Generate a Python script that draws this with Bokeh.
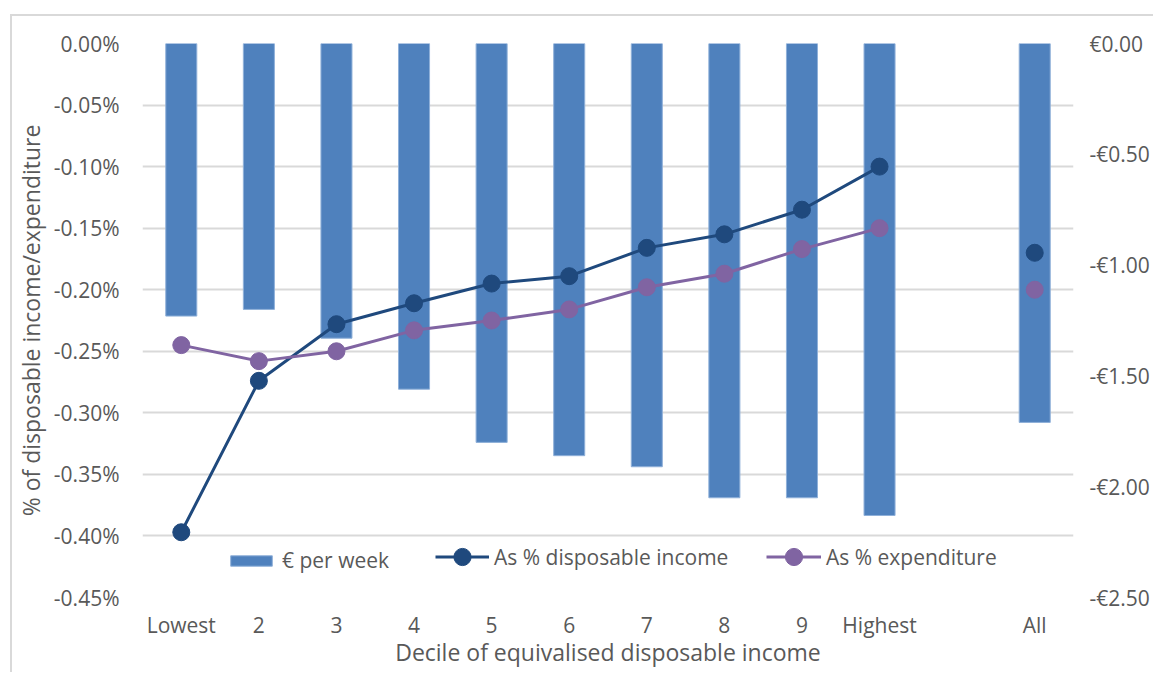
from bokeh.plotting import figure
from bokeh.models import (FactorRange, Range1d, LinearAxis, FixedTicker, PrintfTickFormatter,
                          CustomJSTickFormatter, Legend, LegendItem)
from bokeh.embed import file_html
from bokeh.resources import INLINE

# ---- data ----
categories = ["Lowest", "2", "3", "4", "5", "6", "7", "8", "9", "Highest", " ", "All"]
point_cats = ["Lowest", "2", "3", "4", "5", "6", "7", "8", "9", "Highest", "All"]
eur_per_week = [-1.23, -1.20, -1.33, -1.56, -1.80, -1.86, -1.91, -2.05, -2.05, -2.13, -1.71]
pct_disp_income = [-0.397, -0.274, -0.228, -0.211, -0.195, -0.189, -0.166, -0.155, -0.135, -0.100, -0.170]
pct_expenditure = [-0.245, -0.258, -0.250, -0.233, -0.225, -0.216, -0.198, -0.187, -0.167, -0.150, -0.200]
left_ticks = [0.0, -0.05, -0.10, -0.15, -0.20, -0.25, -0.30, -0.35, -0.40, -0.45]
right_ticks = [0.0, -0.5, -1.0, -1.5, -2.0, -2.5]
series_names = ["€ per week", "As % disposable income", "As % expenditure"]
x_title = "Decile of equivalised disposable income"
y_title = "% of disposable income/expenditure"

FONT = "Open Sans"
TXT = "#595959"
GRID = "#d9d9d9"
BAR = "#4f81bd"
DARK = "#1f497d"
PURPLE = "#8064a2"

p = figure(width=1153, height=672, output_backend="svg", toolbar_location=None,
           x_range=FactorRange(*categories, range_padding=0),
           y_range=Range1d(-0.45, 0.0),
           min_border_left=142, min_border_right=80, min_border_top=43, min_border_bottom=75,
           background_fill_color="white", border_fill_color=None)
p.outline_line_color = None
p.extra_y_ranges = {"eur": Range1d(-2.5, 0.0)}
# light-grey chart-area border (top/left edges visible, as in the original)
p.styles = {"background": "linear-gradient(#d9d9d9,#d9d9d9) 10px 14px / 2px 100% no-repeat, "
                          "linear-gradient(#d9d9d9,#d9d9d9) 10px 14px / 100% 2px no-repeat, #ffffff"}

# grid
p.xgrid.grid_line_color = None
p.ygrid.ticker = FixedTicker(ticks=left_ticks)
p.ygrid.grid_line_color = GRID
p.ygrid.grid_line_width = 2

def style_axis(ax, tick_size="21px", title_size="23px"):
    ax.axis_line_color = None
    ax.major_tick_line_color = None
    ax.minor_tick_line_color = None
    ax.major_tick_in = 0
    ax.major_tick_out = 0
    ax.major_label_text_font = FONT
    ax.major_label_text_font_size = tick_size
    ax.major_label_text_color = TXT
    ax.axis_label_text_font = FONT
    ax.axis_label_text_font_size = title_size
    ax.axis_label_text_font_style = "normal"
    ax.axis_label_text_color = TXT

# left axis
ly = p.yaxis[0]
ly.ticker = FixedTicker(ticks=left_ticks)
ly.formatter = PrintfTickFormatter(format="%.2f%%")
style_axis(ly)
ly.major_label_standoff = 23
ly.axis_label = y_title
ly.axis_label_standoff = 4

# right axis
ry = LinearAxis(y_range_name="eur", ticker=FixedTicker(ticks=right_ticks),
                formatter=CustomJSTickFormatter(code="""
                    const v = Math.abs(tick) < 1e-9 ? 0 : tick;
                    return (v < 0 ? "-" : "") + "\u20ac" + Math.abs(v).toFixed(2);
                """))
style_axis(ry)
ry.major_label_standoff = 16
p.add_layout(ry, "right")

# bottom axis
bx = p.xaxis[0]
style_axis(bx)
bx.major_label_standoff = 13
bx.axis_label = x_title
bx.axis_label_standoff = -6

# bars
bars = p.vbar(x=point_cats, top=0, bottom=eur_per_week, width=0.4, y_range_name="eur",
              fill_color=BAR, line_color="#8fb0d9", line_width=1)

# lines
l1 = p.line(x=point_cats[:10], y=pct_disp_income[:10], line_color=DARK, line_width=3)
s1 = p.scatter(x=point_cats, y=pct_disp_income, size=17, fill_color=DARK, line_color=DARK)
l2 = p.line(x=point_cats[:10], y=pct_expenditure[:10], line_color=PURPLE, line_width=3)
s2 = p.scatter(x=point_cats, y=pct_expenditure, size=17, fill_color=PURPLE, line_color=PURPLE)

def make_legend(item, loc, gw, gh):
    lg = Legend(items=[item], location=loc, orientation="horizontal",
                glyph_width=gw, glyph_height=gh, label_standoff=5,
                padding=0, margin=0, spacing=0,
                border_line_color=None, background_fill_alpha=0,
                label_text_font=FONT, label_text_font_size="21px", label_text_color=TXT)
    p.add_layout(lg, "center")
    return lg

make_legend(LegendItem(label=series_names[0], renderers=[bars]), (83, 23), 52, 13)
make_legend(LegendItem(label=series_names[1], renderers=[l1, s1]), (293, 19), 54, 43)
make_legend(LegendItem(label=series_names[2], renderers=[l2, s2]), (624, 19), 55, 43)

open("out.html", "w").write(file_html(p, INLINE))
